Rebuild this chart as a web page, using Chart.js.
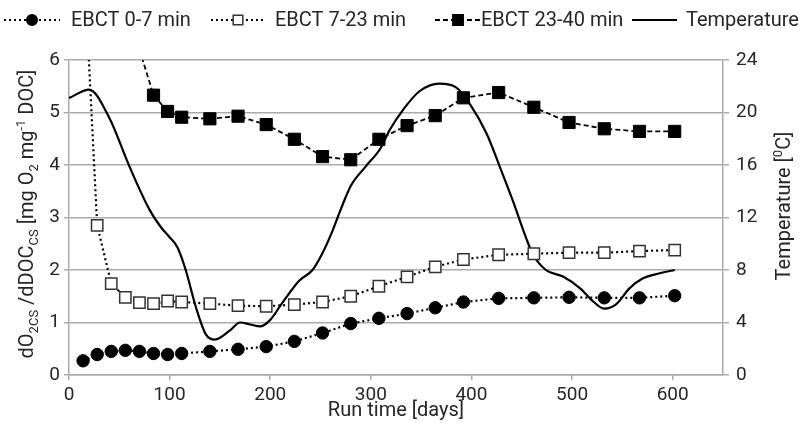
<!DOCTYPE html>
<html>
<head>
<meta charset="utf-8">
<title>EBCT</title>
<script src="https://cdn.jsdelivr.net/npm/chart.js@4.4.1/dist/chart.umd.min.js"></script>
<style>
  html, body { margin: 0; padding: 0; background: #fff; }
  #grafico { display: block; }
</style>
</head>
<body>
<canvas id="grafico" width="809" height="431"></canvas>
<script>
// Run time of each sampling [days]
const dias = [14, 28, 42, 56, 70, 84, 98, 112, 140, 168, 196, 224, 252, 280, 308, 336, 364, 392, 427, 462, 497, 532, 567, 602];

// dO2/dDOC per EBCT stage [mg O2 mg-1 DOC]
const ebct0a7 = [0.27, 0.39, 0.45, 0.47, 0.45, 0.41, 0.39, 0.41, 0.45, 0.49, 0.54, 0.64, 0.80, 0.98, 1.08, 1.17, 1.28, 1.39, 1.46, 1.47, 1.48, 1.47, 1.47, 1.51];
const ebct7a23 = [8.2, 2.85, 1.74, 1.48, 1.38, 1.36, 1.41, 1.39, 1.36, 1.32, 1.31, 1.34, 1.39, 1.50, 1.69, 1.87, 2.06, 2.20, 2.29, 2.31, 2.33, 2.33, 2.36, 2.38];
const ebct23a40 = [null, null, null, null, 6.2, 5.33, 5.02, 4.91, 4.88, 4.93, 4.77, 4.49, 4.16, 4.10, 4.49, 4.75, 4.94, 5.28, 5.38, 5.10, 4.81, 4.69, 4.64, 4.64];

// Water temperature [0C]
const diasTemp = [0, 20, 40, 60, 80, 92, 100, 108, 116, 126, 136, 145, 160, 170, 180, 190, 200, 212, 229, 242, 252, 262, 270, 280, 295, 309, 319, 332, 348, 368, 385, 398, 415, 428, 441, 454, 461, 474, 491, 508, 521, 532, 544, 557, 570, 587, 602];
const temperatura = [21.1, 21.75, 19.6, 15.9, 12.6, 11.2, 10.5, 9.7, 8.0, 5.2, 3.1, 2.7, 3.4, 4.0, 3.85, 3.7, 4.2, 5.5, 7.2, 8.0, 9.3, 11.0, 12.6, 14.4, 15.9, 17.2, 18.7, 20.2, 21.6, 22.2, 21.9, 20.7, 18.4, 15.9, 13.3, 10.5, 9.2, 8.0, 7.5, 6.6, 5.6, 5.05, 5.4, 6.6, 7.35, 7.75, 8.0];

const nomes = ['EBCT 0-7 min', 'EBCT 7-23 min', 'EBCT 23-40 min', 'Temperature'];

const FONTE = 'Roboto';
const corTexto = '#262626';
const cinza = '#ababab';

function pontos(xs, ys) {
    return xs.map((x, i) => ({ x: x, y: ys[i] }));
}

// legend positions (line start/end, marker, text)
const legendaLayout = [
    { linha: [4, 60], marcador: 32, textoX: 71 },
    { linha: [211, 265], marcador: 238, textoX: 275 },
    { linha: [435, 480], marcador: 458, textoX: 481 },
    { linha: [632, 677], marcador: null, textoX: 686 }
];
const legendaY = 20;

function desenharMarcador(ctx, estilo, x, y, r, fundo, borda) {
    ctx.beginPath();
    if (estilo === 'circle') {
        ctx.arc(x, y, r, 0, Math.PI * 2);
    } else {
        const s = r * Math.SQRT1_2;
        ctx.rect(x - s, y - s, 2 * s, 2 * s);
    }
    ctx.fillStyle = fundo;
    ctx.fill();
    ctx.lineWidth = 1.5;
    ctx.strokeStyle = borda;
    ctx.stroke();
}

// rotated text with subscripts (1) and superscripts (2)
function textoRico(ctx, partes, bx, cy) {
    const tam = [20, 13, 13];
    const dy = [0, 5, -8];
    ctx.save();
    ctx.translate(bx, cy);
    ctx.rotate(-Math.PI / 2);
    ctx.textBaseline = 'alphabetic';
    ctx.textAlign = 'left';
    ctx.fillStyle = corTexto;
    const larguras = partes.map(p => {
        ctx.font = tam[p[1]] + 'px ' + FONTE;
        return ctx.measureText(p[0]).width;
    });
    let x = -larguras.reduce((a, b) => a + b, 0) / 2;
    partes.forEach((p, i) => {
        ctx.font = tam[p[1]] + 'px ' + FONTE;
        ctx.fillText(p[0], x, dy[p[1]]);
        x += larguras[i];
    });
    ctx.restore();
}

const tituloEsq = [['dO', 0], ['2CS', 1], [' /dDOC', 0], ['CS', 1], [' [mg O', 0], ['2', 1], [' mg', 0], ['-1', 2], [' DOC]', 0]];
const tituloDir = [['Temperature [', 0], ['0', 2], ['C]', 0]];

const extras = {
    id: 'extras',
    afterDraw(chart) {
        const ctx = chart.ctx;
        // legend
        chart.data.datasets.forEach((ds, i) => {
            const l = legendaLayout[i];
            ctx.save();
            ctx.beginPath();
            ctx.setLineDash(ds.borderDash || []);
            ctx.lineWidth = ds.borderWidth;
            ctx.strokeStyle = ds.borderColor;
            ctx.moveTo(l.linha[0], legendaY);
            ctx.lineTo(l.linha[1], legendaY);
            ctx.stroke();
            ctx.setLineDash([]);
            if (l.marcador !== null) {
                desenharMarcador(ctx, ds.pointStyle, l.marcador, legendaY, ds.pointRadius * 0.85,
                    ds.pointBackgroundColor, ds.pointBorderColor);
            }
            ctx.font = '20px ' + FONTE;
            ctx.fillStyle = corTexto;
            ctx.textBaseline = 'middle';
            ctx.fillText(ds.label, l.textoX, legendaY + 1);
            ctx.restore();
        });
        // axis titles
        textoRico(ctx, tituloEsq, 33, 214);
        textoRico(ctx, tituloDir, 790, 206);
    }
};

const ctx = document.getElementById('grafico').getContext('2d');

const grafico = new Chart(ctx, {
    type: 'line',
    data: {
        datasets: [{
            label: nomes[0],
            data: pontos(dias, ebct0a7),
            yAxisID: 'y',
            borderColor: '#000',
            borderWidth: 2.2,
            borderDash: [2, 3],
            pointStyle: 'circle',
            pointRadius: 6.2,
            pointBackgroundColor: '#000',
            pointBorderColor: '#000',
            pointBorderWidth: 1
        }, {
            label: nomes[1],
            data: pontos(dias, ebct7a23),
            yAxisID: 'y',
            borderColor: '#000',
            borderWidth: 2.2,
            borderDash: [2, 3],
            pointStyle: 'rect',
            pointRadius: 8,
            pointBackgroundColor: '#fff',
            pointBorderColor: '#333',
            pointBorderWidth: 1.5
        }, {
            label: nomes[2],
            data: pontos(dias, ebct23a40),
            yAxisID: 'y',
            borderColor: '#000',
            borderWidth: 1.8,
            borderDash: [5, 3],
            pointStyle: 'rect',
            pointRadius: 8.6,
            pointBackgroundColor: '#000',
            pointBorderColor: '#000',
            pointBorderWidth: 1
        }, {
            label: nomes[3],
            data: pontos(diasTemp, temperatura),
            yAxisID: 'y2',
            borderColor: '#000',
            borderWidth: 2.2,
            cubicInterpolationMode: 'monotone',
            pointRadius: 0
        }]
    },
    options: {
        responsive: false,
        animation: false,
        layout: { padding: { top: 60, left: 0, right: 0, bottom: 0 } },
        plugins: {
            legend: { display: false },
            tooltip: { enabled: false }
        },
        scales: {
            x: {
                type: 'linear',
                min: 0,
                max: 650,
                ticks: { stepSize: 100, includeBounds: false, padding: 4, color: corTexto, font: { family: FONTE, size: 19 } },
                grid: { drawOnChartArea: false, drawTicks: true, tickLength: 5, color: cinza, lineWidth: 1.5 },
                border: { color: cinza, width: 1.5 },
                title: { display: true, text: 'Run time [days]', color: corTexto, font: { family: FONTE, size: 20 }, padding: { top: 0, bottom: 8 } },
                afterFit: function (s) { s.height = 56; }
            },
            y: {
                position: 'left',
                min: 0,
                max: 6,
                ticks: { stepSize: 1, padding: 4, color: corTexto, font: { family: FONTE, size: 19 } },
                grid: { color: cinza, lineWidth: 1.5, tickLength: 5 },
                border: { color: cinza, width: 1.5 },
                afterFit: function (s) { s.width = 69; }
            },
            y2: {
                position: 'right',
                min: 0,
                max: 24,
                ticks: { stepSize: 4, padding: 7, color: corTexto, font: { family: FONTE, size: 19 } },
                grid: { drawOnChartArea: false, color: cinza, lineWidth: 1.5, tickLength: 6 },
                border: { color: cinza, width: 1.5 },
                afterFit: function (s) { s.width = 86; }
            }
        }
    },
    plugins: [extras]
});
</script>
</body>
</html>
